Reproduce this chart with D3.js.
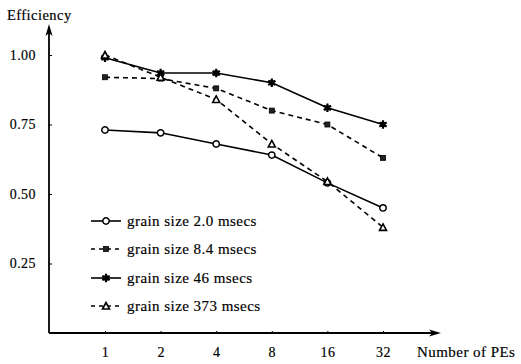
<!DOCTYPE html>
<html><head><meta charset="utf-8">
<script src="https://cdn.jsdelivr.net/npm/d3@7"></script>
<style>body{margin:0;background:#fff}svg{display:block}</style>
</head><body><svg id="c" width="521" height="364"></svg>
<script>
const categories = ["1","2","4","8","16","32"];
const yTicks = [0.25, 0.50, 0.75, 1.00];
const g20 = [0.73, 0.72, 0.68, 0.64, 0.54, 0.45];
const g84 = [0.92, 0.915, 0.88, 0.80, 0.75, 0.63];
const g46 = [0.99, 0.935, 0.935, 0.90, 0.81, 0.75];
const g373 = [1.00, 0.92, 0.84, 0.68, 0.545, 0.38];
const seriesNames = ["grain size 2.0 msecs","grain size 8.4 msecs","grain size 46 msecs","grain size 373 msecs"];
const seriesList = [
  {name:seriesNames[0], values:g20, dash:null, marker:"circle"},
  {name:seriesNames[1], values:g84, dash:"5,4", marker:"square"},
  {name:seriesNames[2], values:g46, dash:null, marker:"star"},
  {name:seriesNames[3], values:g373, dash:"5,4", marker:"triangle"}
];
const FONT = "Liberation Serif, Times New Roman, serif";
const svg = d3.select("#c");
const x = d3.scalePoint().domain(categories).range([105, 383]);
const y = d3.scaleLinear().domain([0, 1]).range([333, 55]);
const ink = "#000";
// axes
svg.append("line").attr("x1",49).attr("x2",49).attr("y1",333).attr("y2",32).attr("stroke",ink).attr("stroke-width",1.8);
svg.append("path").attr("d","M49,24 L45.5,36 L49,33 L52.5,36 Z").attr("fill",ink);
svg.append("line").attr("x1",49).attr("x2",432).attr("y1",333).attr("y2",333).attr("stroke",ink).attr("stroke-width",1.8);
svg.append("path").attr("d","M441,333 L429,329.5 L432,333 L429,336.5 Z").attr("fill",ink);
function styleText(sel, size){
  sel.attr("font-family",FONT).attr("font-size",size).attr("fill",ink)
     .attr("stroke",ink).attr("stroke-width",0.18).attr("letter-spacing",0.45);
}
// y ticks
const yAxis = d3.axisLeft(y).tickValues(yTicks).tickFormat(d3.format(".2f")).tickSize(-3).tickPadding(13);
const ya = svg.append("g").attr("transform","translate(49,0)").call(yAxis);
ya.select(".domain").remove();
ya.selectAll("line").attr("stroke",ink);
styleText(ya.selectAll("text"), 14);
// x ticks
const xAxis = d3.axisBottom(x).tickSize(-2).tickPadding(14);
const xa = svg.append("g").attr("transform","translate(0,333)").call(xAxis);
xa.select(".domain").remove();
xa.selectAll("line").attr("stroke",ink);
styleText(xa.selectAll("text"), 14);
styleText(svg.append("text").attr("x",7).attr("y",20).text("Efficiency"), 14.5);
styleText(svg.append("text").attr("x",417).attr("y",357).text("Number of PEs"), 15);

function drawMarker(sel, type){
  if(type==="circle") sel.append("circle").attr("r",3.2).attr("fill","#fff").attr("stroke",ink).attr("stroke-width",1.5);
  else if(type==="square") sel.append("rect").attr("x",-2.5).attr("y",-2.5).attr("width",5).attr("height",5).attr("fill","#222").attr("stroke",ink).attr("stroke-width",0.8);
  else if(type==="star") {
    sel.append("path").attr("d",d3.symbol().type(d3.symbolAsterisk).size(50)).attr("fill","none").attr("stroke",ink).attr("stroke-width",2.2);
    sel.append("rect").attr("x",-2.5).attr("y",-2.5).attr("width",5).attr("height",5).attr("fill",ink);
  }
  else sel.append("path").attr("d","M0,-3.5 L3.5,3 L-3.5,3 Z").attr("fill","#fff").attr("stroke",ink).attr("stroke-width",1.6);
}
const line = d3.line().x((d,i)=>x(categories[i])).y(d=>y(d));
seriesList.forEach(s=>{
  svg.append("path").datum(s.values).attr("d",line).attr("fill","none").attr("stroke",ink).attr("stroke-width",1.6).attr("stroke-dasharray",s.dash);
});
seriesList.forEach(s=>{
  s.values.forEach((v,i)=>{
    const g = svg.append("g").attr("transform",`translate(${x(categories[i])},${y(v)})`);
    drawMarker(g, s.marker);
  });
});
// legend
const legY = [221, 249, 278, 306];
seriesList.forEach((s,i)=>{
  const g = svg.append("g").attr("transform",`translate(0,${legY[i]})`);
  g.append("line").attr("x1",91).attr("x2",121).attr("y1",0).attr("y2",0).attr("stroke",ink).attr("stroke-width",1.6).attr("stroke-dasharray",s.dash?"4,4":null);
  const m = g.append("g").attr("transform","translate(106,0)");
  drawMarker(m, s.marker);
  styleText(g.append("text").attr("x",127).attr("y",5).text(s.name), 15);
});
</script></body></html>
